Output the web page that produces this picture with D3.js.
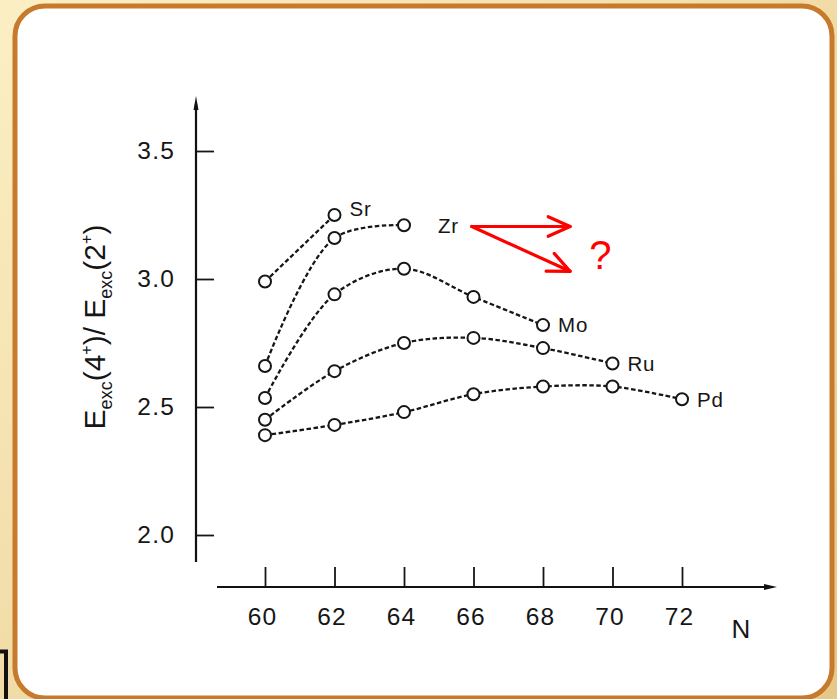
<!DOCTYPE html>
<html>
<head>
<meta charset="utf-8">
<script src="https://cdn.jsdelivr.net/npm/d3@7/dist/d3.min.js"></script>
<style>
  html, body { margin: 0; padding: 0; background: #fff; }
  svg { display: block; }
  text { font-family: "Liberation Sans", Arial, Helvetica, sans-serif; fill: #161616; }
</style>
</head>
<body>
<svg id="chart" width="837" height="699"></svg>
<script>
// Neutron numbers on the x axis
const neutronTicks = [60, 62, 64, 66, 68, 70, 72];
const ratioTicks = [2.0, 2.5, 3.0, 3.5];

// E(4+)/E(2+) ratios per isotope chain
const srN = [60, 62];
const srR = [2.99, 3.25];
const zrN = [60, 62, 64];
const zrR = [2.66, 3.16, 3.21];
const moN = [60, 62, 64, 66, 68];
const moR = [2.535, 2.94, 3.04, 2.93, 2.82];
const ruN = [60, 62, 64, 66, 68, 70];
const ruR = [2.45, 2.64, 2.75, 2.77, 2.73, 2.67];
const pdN = [60, 62, 64, 66, 68, 70, 72];
const pdR = [2.39, 2.43, 2.48, 2.55, 2.58, 2.58, 2.53];
const elementNames = ["Sr", "Zr", "Mo", "Ru", "Pd"];

// Open question: where does Zr go beyond N = 64?
const arrowFrom = [65.95, 3.205];
const arrowTips = [[68.78, 3.205], [68.78, 3.03]];

const chains = [
  { name: elementNames[0], n: srN, r: srR },
  { name: elementNames[1], n: zrN, r: zrR },
  { name: elementNames[2], n: moN, r: moR },
  { name: elementNames[3], n: ruN, r: ruR },
  { name: elementNames[4], n: pdN, r: pdR }
];

const svg = d3.select("#chart");
const ink = "#161616";

// ---- slide frame ----
const defs = svg.append("defs");
const bg = defs.append("linearGradient").attr("id", "gold")
  .attr("x1", "0").attr("y1", "0").attr("x2", "1").attr("y2", "1");
bg.append("stop").attr("offset", "0").attr("stop-color", "#fcefc4");
bg.append("stop").attr("offset", "1").attr("stop-color", "#e6c888");
svg.append("rect").attr("width", 837).attr("height", 699).attr("fill", "url(#gold)");
svg.append("rect")
  .attr("x", 15).attr("y", 6).attr("width", 817).attr("height", 692)
  .attr("rx", 30).attr("ry", 30)
  .attr("fill", "#fff").attr("stroke", "#c77a2c").attr("stroke-width", 5);
svg.append("path").attr("d", "M0,651.5 H6 V699")
  .attr("fill", "none").attr("stroke", "#111").attr("stroke-width", 4);

// ---- scales ----
const x = d3.scaleLinear().domain([60, 72]).range([265, 682]);
const y = d3.scaleLinear().domain([2, 3.5]).range([535, 151]);

const axisX0 = 196;   // vertical axis position
const axisY0 = 587;   // horizontal axis position

// ---- y axis ----
const gy = svg.append("g").attr("transform", `translate(${axisX0},0)`)
  .call(d3.axisLeft(y).tickValues(ratioTicks).tickFormat(d3.format(".1f"))
    .tickSizeInner(-18).tickSizeOuter(0).tickPadding(21));
gy.select(".domain").remove();
gy.selectAll(".tick line").attr("stroke", ink).attr("stroke-width", 1.8);
gy.selectAll(".tick text").attr("font-size", 24.5).attr("letter-spacing", 1.2)
  .attr("fill", ink).style("font-family", "'Liberation Sans', Arial, sans-serif");
svg.append("line").attr("x1", axisX0).attr("x2", axisX0).attr("y1", 104).attr("y2", 562)
  .attr("stroke", "#111").attr("stroke-width", 2.2);
svg.append("path").attr("d", `M${axisX0},96 L${axisX0 - 2.5},110 L${axisX0 + 2.5},110 Z`).attr("fill", "#111");

// ---- x axis ----
const gx = svg.append("g").attr("transform", `translate(0,${axisY0})`)
  .call(d3.axisBottom(x).tickValues(neutronTicks).tickFormat(d3.format("d"))
    .tickSizeInner(-20).tickSizeOuter(0).tickPadding(21));
gx.select(".domain").remove();
gx.selectAll(".tick line").attr("stroke", ink).attr("stroke-width", 1.8);
gx.selectAll(".tick text").attr("font-size", 24.5).attr("letter-spacing", 1.2).attr("dx", -3)
  .attr("fill", ink).style("font-family", "'Liberation Sans', Arial, sans-serif");
svg.append("line").attr("x1", 217).attr("x2", 768).attr("y1", axisY0).attr("y2", axisY0)
  .attr("stroke", "#111").attr("stroke-width", 2.2);
svg.append("path").attr("d", `M777,${axisY0} L764,${axisY0 - 3} L764,${axisY0 + 3} Z`).attr("fill", "#111");
svg.append("text").attr("x", 741).attr("y", 638).attr("text-anchor", "middle")
  .attr("font-size", 26).text("N");

// ---- y axis title: E_exc(4+)/ E_exc(2+) ----
const yt = svg.append("text").attr("transform", "translate(105,327) rotate(-90)")
  .attr("text-anchor", "middle").attr("font-size", 30);
const parts = [
  ["E", 0, 30], ["exc", 7, 18], ["(4", -7, 30], ["+", -13, 16], [")/ E", 13, 30],
  ["exc", 7, 18], ["(2", -7, 30], ["+", -13, 16], [")", 13, 30]
];
parts.forEach(([t, dy, fs]) => yt.append("tspan").attr("dy", dy).attr("font-size", fs).text(t));

// ---- curves and markers ----
const line = d3.line().x(d => x(d[0])).y(d => y(d[1])).curve(d3.curveCatmullRom.alpha(0.5));

chains.forEach(c => {
  const pts = c.n.map((n, i) => [n, c.r[i]]);
  svg.append("path").datum(pts).attr("d", line)
    .attr("fill", "none").attr("stroke", ink).attr("stroke-width", 2.3)
    .attr("stroke-dasharray", "4.5,2.5");
  svg.append("g").selectAll("circle").data(pts).join("circle")
    .attr("cx", d => x(d[0])).attr("cy", d => y(d[1])).attr("r", 6)
    .attr("fill", "#fff").attr("stroke", ink).attr("stroke-width", 2);
  const last = pts[pts.length - 1];
  const off = c.name === "Zr" ? 34 : 15;
  const lift = c.name === "Sr" ? -6 : 0;
  svg.append("text").attr("x", x(last[0]) + off).attr("y", y(last[1]) + lift)
    .attr("dy", "0.36em").attr("font-size", 20.5).attr("letter-spacing", 0.8)
    .text(c.name);
});

// ---- red arrows and question mark ----
const red = "#f00";
arrowTips.forEach(tip => {
  const x0 = x(arrowFrom[0]), y0 = y(arrowFrom[1]);
  const x1 = x(tip[0]), y1 = y(tip[1]);
  const ang = Math.atan2(y1 - y0, x1 - x0);
  const len = 24, spread = 0.42;
  svg.append("line").attr("x1", x0).attr("y1", y0).attr("x2", x1).attr("y2", y1)
    .attr("stroke", red).attr("stroke-width", 3.2).attr("stroke-linecap", "round");
  const b1 = [x1 - len * Math.cos(ang - spread), y1 - len * Math.sin(ang - spread)];
  const b2 = [x1 - len * Math.cos(ang + spread), y1 - len * Math.sin(ang + spread)];
  svg.append("path").attr("d", `M${b1[0]},${b1[1]} L${x1},${y1} L${b2[0]},${b2[1]}`)
    .attr("fill", "none").attr("stroke", red).attr("stroke-width", 3.2)
    .attr("stroke-linecap", "round").attr("stroke-linejoin", "round");
});
svg.append("text").attr("x", x(69.65)).attr("y", 269).attr("text-anchor", "middle")
  .attr("font-size", 40).style("fill", red).text("?");
</script>
</body>
</html>
